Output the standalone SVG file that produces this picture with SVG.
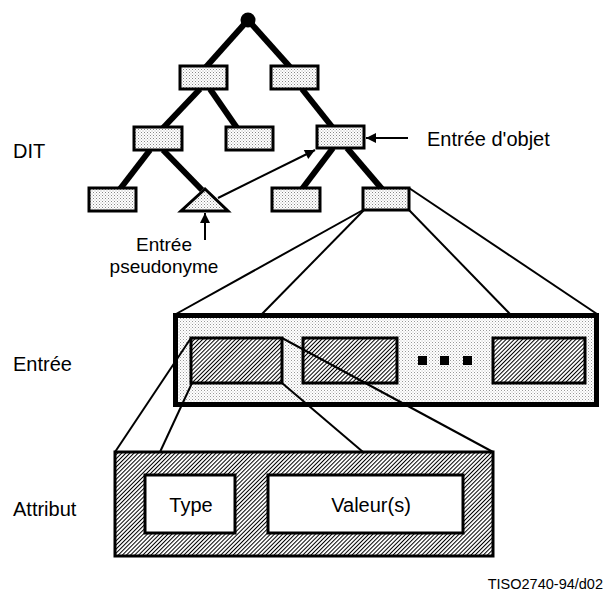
<svg xmlns="http://www.w3.org/2000/svg" width="605" height="592" viewBox="0 0 605 592">
  <style>
    .lbl { font-family: "Liberation Sans", Arial, sans-serif; font-size: 20px; fill: #000; }
    .lbl2 { font-family: "Liberation Sans", Arial, sans-serif; font-size: 19px; fill: #000; }
    .code { font-family: "Liberation Sans", Arial, sans-serif; font-size: 14.5px; fill: #000; }
    .tree { stroke: #000; stroke-width: 6; stroke-linecap: butt; fill: none; }
    .thin { stroke: #000; stroke-width: 2; fill: none; }
    .tbox { fill: url(#stipple); stroke: #000; stroke-width: 3; }
    .hbox { fill: url(#hatch); stroke: #000; stroke-width: 3; }
    .wbox { fill: #fff; stroke: #000; stroke-width: 3; }
  </style>
  <defs>
    <pattern id="stipple" width="3" height="3" patternUnits="userSpaceOnUse">
      <rect width="3" height="3" fill="#fff"/>
      <rect x="0" y="0" width="1" height="1" fill="#888"/>
      <rect x="1.5" y="1.5" width="1" height="1" fill="#aaa"/>
    </pattern>
    <pattern id="stipple2" width="3" height="3" patternUnits="userSpaceOnUse">
      <rect width="3" height="3" fill="#fff"/>
      <rect x="0" y="0" width="1" height="1" fill="#999"/>
      <rect x="1.5" y="1.5" width="1" height="1" fill="#bbb"/>
    </pattern>
    <pattern id="hatch" width="2.9" height="10" patternUnits="userSpaceOnUse" patternTransform="rotate(45)">
      <rect width="2.9" height="10" fill="#fff"/>
      <rect x="0" y="0" width="1" height="10" fill="#000"/>
    </pattern>
    <marker id="arr" viewBox="0 0 10 10" refX="10" refY="5" markerWidth="6" markerHeight="5" orient="auto" markerUnits="strokeWidth">
      <path d="M0,0 L10,5 L0,10 z" fill="#000"/>
    </marker>
  </defs>

  <!-- connectors -->
  <g id="connectors">
    <line class="tree" x1="248" y1="20" x2="206" y2="67"/>
    <line class="tree" x1="248" y1="20" x2="290" y2="67"/>
    <line class="tree" x1="200" y1="89" x2="163" y2="128"/>
    <line class="tree" x1="210" y1="89" x2="237" y2="128"/>
    <line class="tree" x1="302" y1="89" x2="333" y2="128"/>
    <line class="tree" x1="150" y1="150" x2="120" y2="189"/>
    <line class="tree" x1="163" y1="150" x2="202" y2="190"/>
    <line class="tree" x1="333" y1="148" x2="302" y2="189"/>
    <line class="tree" x1="347" y1="148" x2="382" y2="189"/>

    <line class="thin" x1="363" y1="210" x2="176" y2="314"/>
    <line class="thin" x1="364" y1="210" x2="262" y2="314"/>
    <line class="thin" x1="409" y1="210" x2="510" y2="314"/>
    <line class="thin" x1="409" y1="188" x2="597" y2="314"/>
  </g>

  <!-- DIT nodes -->
  <g id="root"><circle cx="248" cy="20" r="7.5" fill="#000"/></g>
  <g id="n1l"><rect class="tbox" x="180" y="66" width="47" height="23"/></g>
  <g id="n1r"><rect class="tbox" x="271" y="66" width="47" height="23"/></g>
  <g id="n2a"><rect class="tbox" x="134" y="127" width="48" height="23"/></g>
  <g id="n2b"><rect class="tbox" x="226" y="127" width="47" height="23"/></g>
  <g id="n2c"><rect class="tbox" x="317" y="126" width="47" height="22"/></g>
  <g id="n3a"><rect class="tbox" x="89" y="188" width="47" height="23"/></g>
  <g id="alias"><polygon class="tbox" points="205,189 181,211 228,211"/></g>
  <g id="n3c"><rect class="tbox" x="272" y="188" width="48" height="23"/></g>
  <g id="n3d"><rect class="tbox" x="363" y="188" width="46" height="22"/></g>

  <!-- arrows -->
  <g id="arrows">
    <line class="thin" x1="218" y1="198" x2="315" y2="150" marker-end="url(#arr)"/>
    <line class="thin" x1="205" y1="240" x2="205" y2="213" marker-end="url(#arr)"/>
    <line class="thin" x1="408" y1="138" x2="366" y2="138" marker-end="url(#arr)"/>
  </g>

  <!-- Entrée box -->
  <g id="entree">
    <rect x="175.5" y="315.5" width="421" height="89" fill="url(#stipple2)" stroke="#000" stroke-width="5"/>
    <rect class="hbox" x="191" y="338" width="91" height="45"/>
    <rect class="hbox" x="303" y="338" width="94" height="45"/>
    <rect class="hbox" x="493" y="338" width="92" height="45"/>
    <rect x="418" y="356" width="9" height="9" fill="#000"/>
    <rect x="440" y="356" width="9" height="9" fill="#000"/>
    <rect x="463" y="356" width="9" height="9" fill="#000"/>
  </g>

  <!-- Attribut box -->
  <g id="attribut">
    <rect class="hbox" x="115" y="452" width="378" height="104"/>
    <rect class="wbox" x="145" y="475" width="90" height="58"/>
    <rect class="wbox" x="268" y="475" width="195" height="58"/>
    <text class="lbl" x="191" y="512" text-anchor="middle">Type</text>
    <text class="lbl" x="371" y="512" text-anchor="middle">Valeur(s)</text>
  </g>

  <!-- expansion lines from first attribute to Attribut box -->
  <g id="connectors2">
    <line class="thin" x1="191" y1="338" x2="115" y2="452"/>
    <line class="thin" x1="192" y1="383" x2="160" y2="452"/>
    <line class="thin" x1="282" y1="338" x2="493" y2="452"/>
    <line class="thin" x1="282" y1="383" x2="363" y2="452"/>
  </g>

  <!-- labels -->
  <g id="labels">
    <text class="lbl" x="13" y="158">DIT</text>
    <text class="lbl" x="13" y="371">Entrée</text>
    <text class="lbl" x="13" y="516">Attribut</text>
    <text class="lbl" x="427" y="146">Entrée d'objet</text>
    <text class="lbl2" x="164" y="251" text-anchor="middle">Entrée</text>
    <text class="lbl2" x="164" y="273" text-anchor="middle">pseudonyme</text>
    <text class="code" x="603" y="589" text-anchor="end">TISO2740-94/d02</text>
  </g>
</svg>
